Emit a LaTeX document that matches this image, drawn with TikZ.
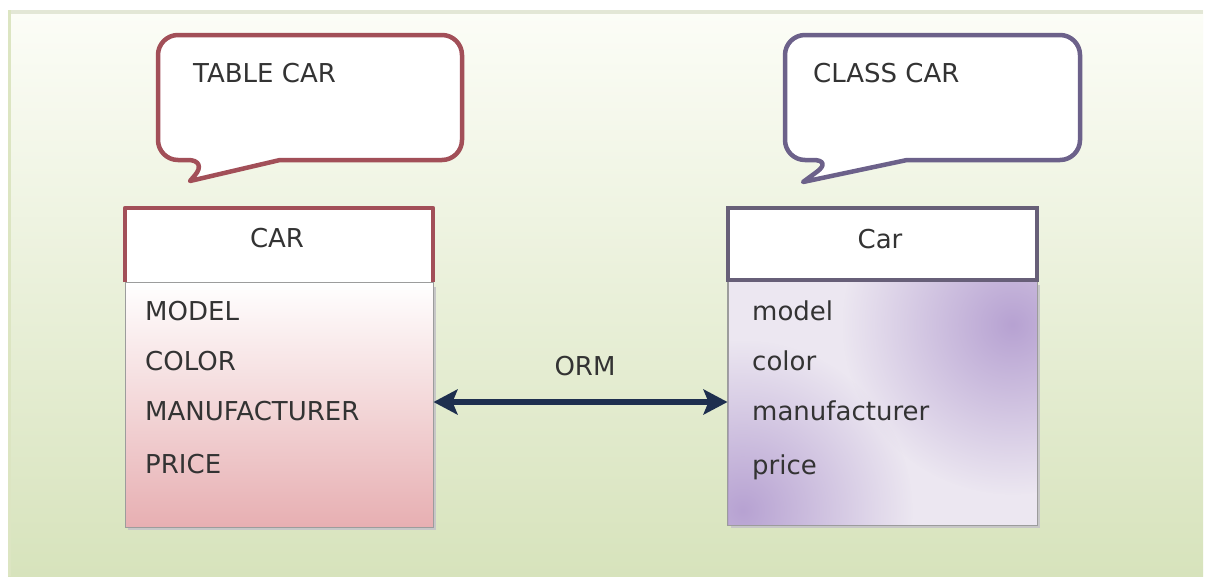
\documentclass[tikz,border=0pt]{standalone}
\usepackage{fontspec}
\setmainfont{DejaVu Sans}
\usetikzlibrary{arrows.meta,fadings}
\definecolor{panelTop}{HTML}{FCFDF7}
\definecolor{panelBot}{HTML}{D7E3BC}
\definecolor{stripTop}{HTML}{E3E7D6}
\definecolor{stripLeft}{HTML}{DCE5C2}
\definecolor{txtgray}{HTML}{333333}
\definecolor{redline}{HTML}{A24F58}
\definecolor{purpleline}{HTML}{6C618A}
\definecolor{headpurple}{HTML}{675F78}
\definecolor{pinkBot}{HTML}{E7AFB2}
\definecolor{lavDark}{HTML}{B7A2D2}
\definecolor{lavLight}{HTML}{ECE7F1}
\definecolor{navy}{HTML}{1E2F4F}
\definecolor{bodyborder}{HTML}{9C9C9C}
\tikzfading[name=softspot, inner color=transparent!0, outer color=transparent!100]
\begin{document}
\begin{tikzpicture}[x=1pt,y=-1pt,
  txt/.style={inner sep=0pt, text=txtgray, font=\fontsize{26}{30}\selectfont},
  bubble/.style={line width=4.5pt, fill=white, line join=round},
  headbox/.style={draw=none, fill=white, minimum width=308pt, inner sep=0pt},
  bodybox/.style={draw=bodyborder, line width=1pt, minimum width=308pt, minimum height=245pt, inner sep=0pt},
  shadowst/.style={fill=black!22},
  spot/.style={fill=lavDark, path fading=softspot},
  ormarrow/.style={draw=navy, line width=6pt, {Stealth[length=24pt,width=25pt,inset=5pt]}-{Stealth[length=24pt,width=25pt,inset=5pt]}}]
\useasboundingbox (0,0) rectangle (1207,576);
\fill[white] (0,0) rectangle (1207,576);
% background panel
\shade[top color=panelTop, bottom color=panelBot] (8,10) rectangle (1203,576);
\fill[stripTop] (8,10) rectangle (1203,14);
\fill[stripLeft] (8,10) rectangle (11,576);

% speech bubbles
\draw[bubble, draw=redline] (280,160) [rounded corners=20pt] -- (462,160) -- (462,35) -- (158,35) -- (158,160) -- (208,160) [sharp corners] -- (190,181) -- cycle;
\node[txt, anchor=base west] (tablecar) at (193,82) {TABLE CAR};

\draw[bubble, draw=purpleline] (907,160) [rounded corners=20pt] -- (1080,160) -- (1080,35) -- (785,35) -- (785,160) -- (833,160) [sharp corners] -- (803,182) -- cycle;
\node[txt, anchor=base west] (classcar) at (813,82) {CLASS CAR};

% left table
\fill[shadowst] (128,287) rectangle (436,530);
\node[bodybox, top color=white, bottom color=pinkBot] (lbody) at (279,404.5) {};
\node[headbox, minimum height=74pt] (lhead) at (279,245) {};
\draw[bodyborder, line width=1.2pt] (lhead.south west) -- (lhead.south east);
\draw[redline, line width=3.5pt, line join=round] (lhead.south west) -- (lhead.north west) -- (lhead.north east) -- (lhead.south east);
\node[txt, anchor=base] (ltitle) at (277,247) {CAR};
\node[txt, anchor=base west] (l1) at (145,320) {MODEL};
\node[txt, anchor=base west] (l2) at (145,370) {COLOR};
\node[txt, anchor=base west] (l3) at (145,420) {MANUFACTURER};
\node[txt, anchor=base west] (l4) at (145,473) {PRICE};

% right table
\fill[shadowst] (731,285) rectangle (1040,528);
\node[bodybox, minimum width=309pt, fill=lavLight] (rbody) at (882.5,402.5) {};
\begin{scope}
  \clip (rbody.south west) rectangle (rbody.north east);
  \fill[spot] (rbody.north east) ++(-25,45) circle[radius=170pt];
  \fill[spot] (rbody.south west) ++(15,-15) circle[radius=170pt];
\end{scope}
\draw[bodyborder, line width=1pt] (rbody.south west) rectangle (rbody.north east);
\node[headbox, minimum width=309pt, minimum height=72pt, draw=headpurple, line width=3.5pt] (rhead) at (882.5,244) {};
\node[txt, anchor=base] (rtitle) at (880,248) {Car};
\node[txt, anchor=base west] (r1) at (752,320) {model};
\node[txt, anchor=base west] (r2) at (752,370) {color};
\node[txt, anchor=base west] (r3) at (752,420) {manufacturer};
\node[txt, anchor=base west] (r4) at (752,474) {price};

% ORM connector
\node[txt, anchor=base] (orm) at (585,375) {ORM};
\coordinate (ormy) at (585,402);
\draw[ormarrow] (lbody.east |- ormy) -- (rbody.west |- ormy);
\end{tikzpicture}
\end{document}
